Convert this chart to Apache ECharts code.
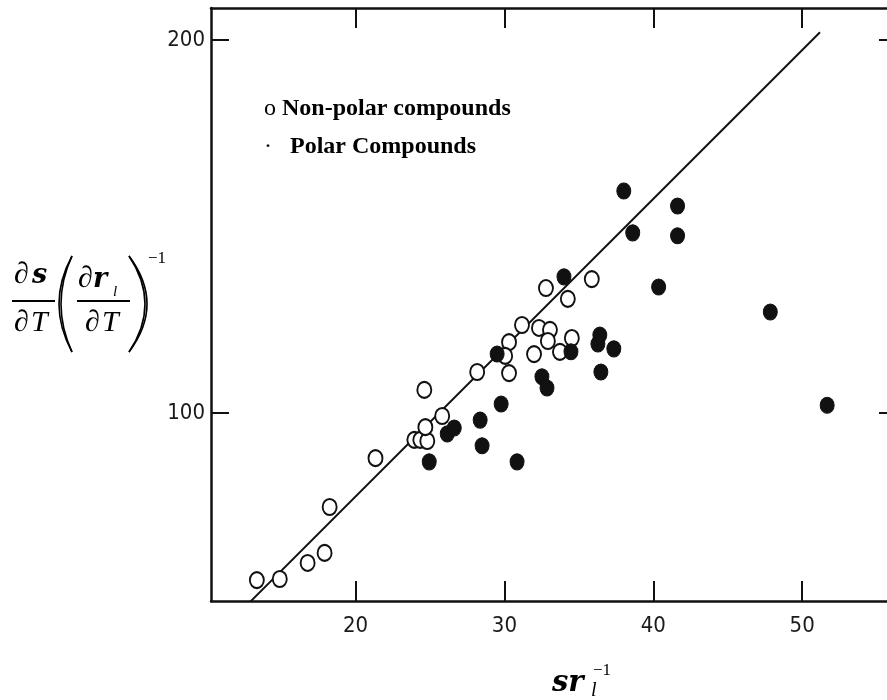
<!DOCTYPE html>
<html>
<head>
<meta charset="utf-8">
<title>Surface tension derivative vs. reduced density</title>
<script src="https://cdn.jsdelivr.net/npm/echarts@6/dist/echarts.min.js"></script>
<style>
  html, body { margin: 0; padding: 0; background: #fff; }
  #chart { width: 887px; height: 700px; }
</style>
</head>
<body>
<div id="chart"></div>
<script>
// Non-polar compounds (open circles)
const nonPolarX = [13.37, 14.91, 16.78, 17.92, 18.26, 21.34, 23.95, 24.35, 24.82, 24.69, 25.82, 24.62,
                   28.17, 30.31, 30.31, 30.05, 31.18, 32.32, 33.06, 32.92, 31.99, 33.73, 34.53, 32.79, 34.26, 35.87];
const nonPolarY = [55.2, 55.5, 59.8, 62.5, 74.8, 87.9, 92.8, 92.8, 92.5, 96.2, 99.2, 106.2,
                   111.0, 119.0, 110.7, 115.3, 123.6, 122.8, 122.3, 119.3, 115.8, 116.4, 120.1, 133.5, 130.6, 135.9];

// Polar compounds (filled circles)
const polarX = [24.95, 26.16, 26.63, 28.37, 28.50, 29.78, 30.85, 29.51, 32.52, 32.86, 34.47, 34.00,
                36.41, 36.28, 37.35, 36.48, 38.02, 38.62, 41.63, 41.63, 40.36, 47.86, 51.68];
const polarY = [86.9, 94.4, 96.0, 98.1, 91.2, 102.4, 86.9, 115.8, 109.7, 106.7, 116.4, 136.5,
                120.9, 118.5, 117.2, 111.0, 159.5, 148.3, 155.5, 147.5, 133.8, 127.1, 102.1];

// Straight correlation line (end points)
const fitX = [12.9, 51.2];
const fitY = [49.3, 202.1];

// Tick values
const xTicks = [20, 30, 40, 50];
const yTicks = [100, 200];

const zip = (xs, ys) => xs.map((x, i) => [x, ys[i]]);

const INK = '#111';
const tickFont = "'Liberation Sans Narrow', 'DejaVu Sans Condensed', 'Liberation Sans', sans-serif";
const serif = "'Liberation Serif', 'Times New Roman', serif";
const mathBold = "'DejaVu Serif', serif";

function txt(text, x, y, size, opts) {
  opts = opts || {};
  return {
    type: 'text', x: x, y: y, silent: true,
    style: {
      text: text,
      fontFamily: opts.family || serif,
      fontSize: size,
      fontStyle: opts.italic ? 'italic' : 'normal',
      fontWeight: opts.bold ? 'bold' : 'normal',
      fill: '#000',
      align: 'left',
      verticalAlign: 'middle'
    }
  };
}
function bar(x1, x2, y) {
  return { type: 'line', silent: true, shape: { x1: x1, y1: y, x2: x2, y2: y },
           style: { stroke: '#000', lineWidth: 2 } };
}
// a tall bracket drawn as two quadratic strokes (thicker in the middle)
function paren(xEnd, yTop, yBot, cOuter, cInner) {
  const mk = (c, w) => ({
    type: 'bezierCurve', silent: true,
    shape: { x1: xEnd, y1: yTop, x2: xEnd, y2: yBot, cpx1: c, cpy1: (yTop + yBot) / 2 },
    style: { stroke: '#000', lineWidth: w, fill: null }
  });
  return [mk(cOuter, 1.6), mk(cInner, 1.6)];
}

const chart = echarts.init(document.getElementById('chart'), null, { renderer: 'canvas' });

const axisLineStyle = { lineStyle: { color: INK, width: 2.5 } };

chart.setOption({
  backgroundColor: '#fff',
  animation: false,
  grid: { left: 211, right: -2, top: 8, bottom: 99 },
  legend: {
    left: 254, top: 92, orient: 'vertical',
    itemWidth: 0, itemHeight: 0, itemGap: 14, icon: 'none',
    selectedMode: false,
    data: ['Non-polar compounds', 'Polar Compounds'],
    formatter: function (name) {
      return name === 'Non-polar compounds'
        ? '{m|o }{b|Non-polar compounds}'
        : '{m|·   }{b|Polar Compounds}';
    },
    textStyle: {
      rich: {
        m: { fontFamily: serif, fontSize: 24, lineHeight: 26, color: '#000' },
        b: { fontFamily: serif, fontSize: 24, lineHeight: 26, fontWeight: 'bold', color: '#000' }
      }
    }
  },
  xAxis: [
    {
      type: 'value', position: 'bottom', min: 10.29, max: 55.70,
      axisLine: axisLineStyle,
      axisTick: { inside: true, length: 20, customValues: xTicks, lineStyle: { color: INK, width: 2 } },
      axisLabel: { customValues: xTicks, margin: 14, color: '#1a1a1a', fontFamily: tickFont, fontSize: 22 },
      splitLine: { show: false }
    },
    {
      type: 'value', position: 'top', min: 10.29, max: 55.70,
      axisLine: axisLineStyle,
      axisTick: { inside: true, length: 20, customValues: xTicks, lineStyle: { color: INK, width: 2 } },
      axisLabel: { show: false },
      splitLine: { show: false }
    }
  ],
  yAxis: [
    {
      type: 'value', position: 'left', min: 49.6, max: 208.58,
      axisLine: axisLineStyle,
      axisTick: { inside: true, length: 18, customValues: yTicks, lineStyle: { color: INK, width: 2 } },
      axisLabel: { customValues: yTicks, margin: 6, color: '#1a1a1a', fontFamily: tickFont, fontSize: 22 },
      splitLine: { show: false }
    },
    {
      type: 'value', position: 'right', min: 49.6, max: 208.58,
      axisLine: { show: false },
      axisTick: { inside: true, length: 8, customValues: yTicks, lineStyle: { color: INK, width: 2 } },
      axisLabel: { show: false },
      splitLine: { show: false }
    }
  ],
  series: [
    {
      name: 'Correlation', type: 'line', data: zip(fitX, fitY),
      symbol: 'none', lineStyle: { color: INK, width: 2 }, z: 1, silent: true
    },
    {
      name: 'Non-polar compounds', type: 'scatter', data: zip(nonPolarX, nonPolarY),
      symbol: 'circle', symbolSize: [14, 16],
      itemStyle: { color: '#fff', borderColor: INK, borderWidth: 2, opacity: 1 }, z: 3
    },
    {
      name: 'Polar Compounds', type: 'scatter', data: zip(polarX, polarY),
      symbol: 'circle', symbolSize: [14, 16],
      itemStyle: { color: INK, borderColor: INK, borderWidth: 1, opacity: 1 }, z: 4
    }
  ],
  graphic: [
    // y-axis quantity: (∂s/∂T)(∂r_l/∂T)^-1
    txt('∂', 14, 275, 30),
    txt('s', 32, 276, 27, { family: mathBold, bold: true, italic: true }),
    bar(12, 55, 301),
    txt('∂', 14, 323, 30),
    txt('T', 31, 323, 30, { italic: true }),
    ...paren(72, 256, 352, 46, 50),
    txt('∂', 78, 279, 30),
    txt('r', 93, 280, 27, { family: mathBold, bold: true, italic: true }),
    txt('l', 113, 292, 15, { italic: true }),
    bar(77, 130, 301),
    txt('∂', 85, 323, 30),
    txt('T', 102, 323, 30, { italic: true }),
    ...paren(129, 256, 352, 165, 161),
    txt('−1', 148, 259, 17),
    // x-axis quantity: s r_l^-1
    txt('sr', 552, 683, 29, { family: mathBold, bold: true, italic: true }),
    txt('l', 591, 691, 20, { italic: true }),
    txt('−1', 593, 671, 17)
  ]
});
</script>
</body>
</html>
